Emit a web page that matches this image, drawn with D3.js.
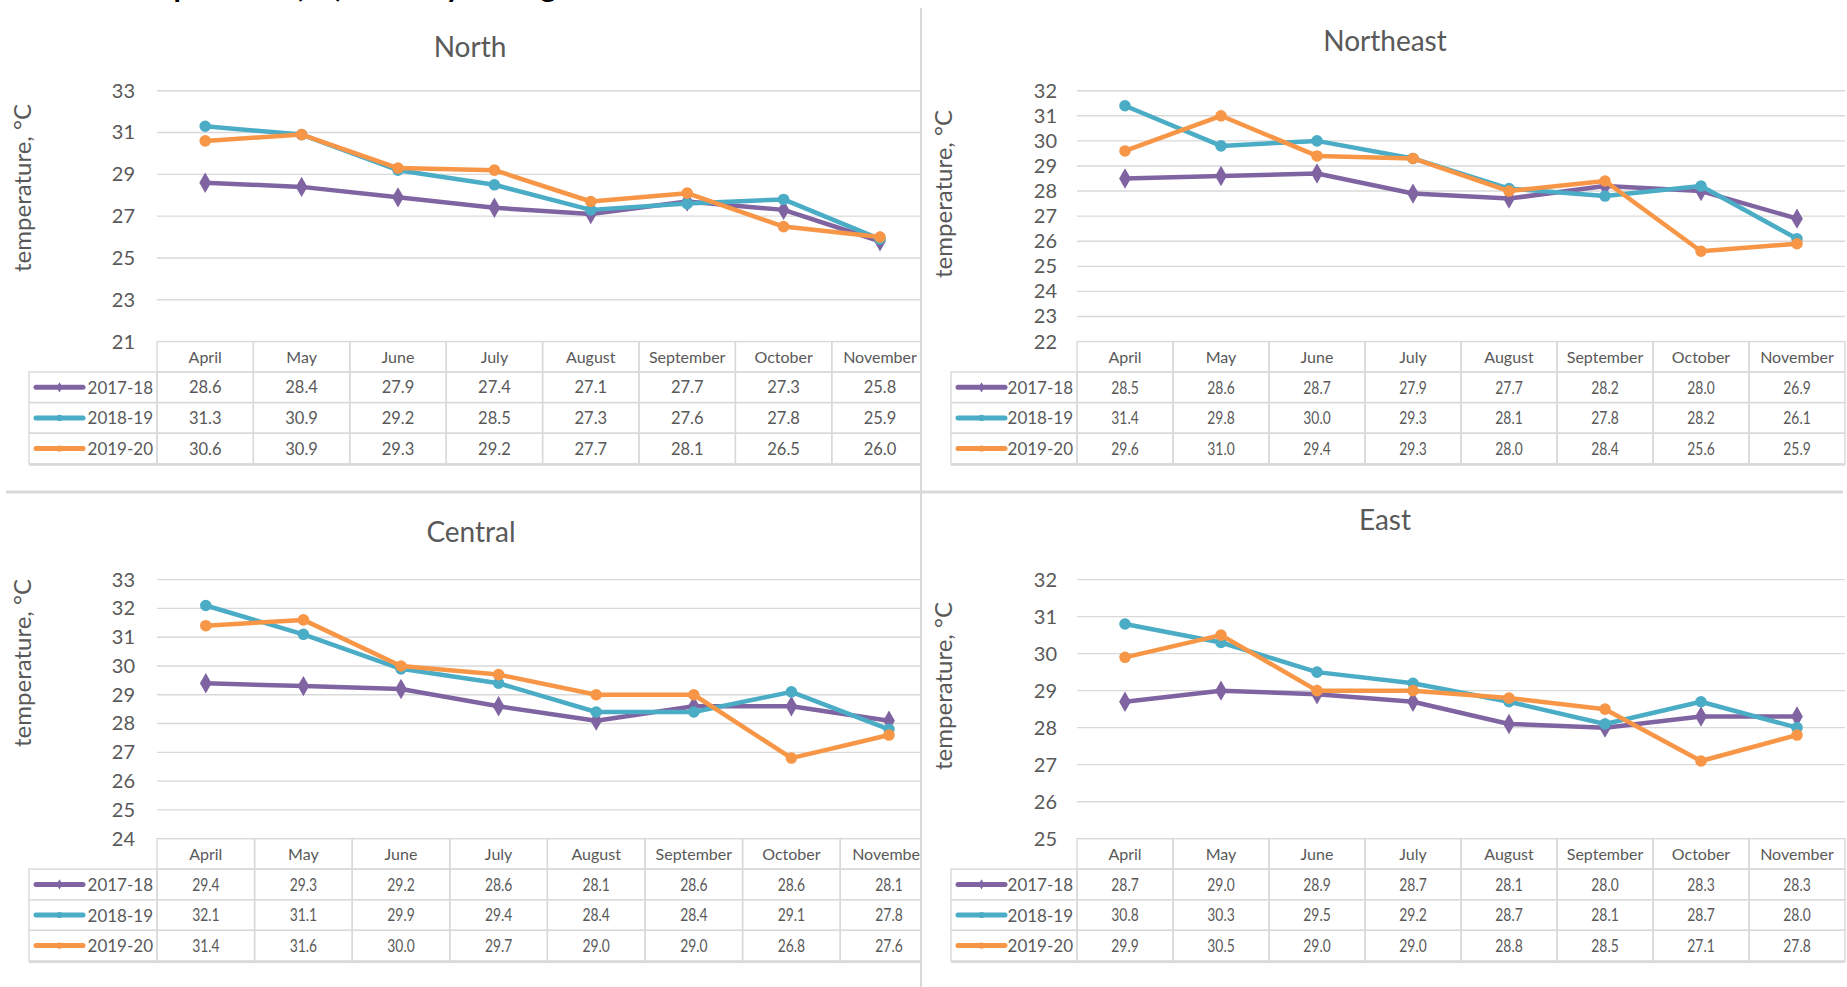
<!DOCTYPE html>
<html>
<head>
<meta charset="utf-8">
<script src="https://cdn.jsdelivr.net/npm/d3@7"></script>
<style>
  body { margin: 0; background: #fff; }
  svg { display: block; }
  text { font-family: Lato, "Open Sans", sans-serif; }
</style>
</head>
<body>
<svg id="chart" width="1847" height="987"></svg>
<script>
// ---- data ----
const months = ["April", "May", "June", "July", "August", "September", "October", "November"];
const seasons = ["2017-18", "2018-19", "2019-20"];
const seasonColors = ["#8064A2", "#4BACC6", "#F79646"];
const regionNames = ["North", "Northeast", "Central", "East"];

const northValues = [
  [28.6, 28.4, 27.9, 27.4, 27.1, 27.7, 27.3, 25.8],
  [31.3, 30.9, 29.2, 28.5, 27.3, 27.6, 27.8, 25.9],
  [30.6, 30.9, 29.3, 29.2, 27.7, 28.1, 26.5, 26.0]
];
const northeastValues = [
  [28.5, 28.6, 28.7, 27.9, 27.7, 28.2, 28.0, 26.9],
  [31.4, 29.8, 30.0, 29.3, 28.1, 27.8, 28.2, 26.1],
  [29.6, 31.0, 29.4, 29.3, 28.0, 28.4, 25.6, 25.9]
];
const centralValues = [
  [29.4, 29.3, 29.2, 28.6, 28.1, 28.6, 28.6, 28.1],
  [32.1, 31.1, 29.9, 29.4, 28.4, 28.4, 29.1, 27.8],
  [31.4, 31.6, 30.0, 29.7, 29.0, 29.0, 26.8, 27.6]
];
const eastValues = [
  [28.7, 29.0, 28.9, 28.7, 28.1, 28.0, 28.3, 28.3],
  [30.8, 30.3, 29.5, 29.2, 28.7, 28.1, 28.7, 28.0],
  [29.9, 30.5, 29.0, 29.0, 28.8, 28.5, 27.1, 27.8]
];

const northTicks = [21, 23, 25, 27, 29, 31, 33];
const northeastTicks = [22, 23, 24, 25, 26, 27, 28, 29, 30, 31, 32];
const centralTicks = [24, 25, 26, 27, 28, 29, 30, 31, 32, 33];
const eastTicks = [25, 26, 27, 28, 29, 30, 31, 32];

const axisTitle = "temperature, °C";
const pageTitle = "Temperature (°C) monthly average";

// ---- layout ----
const svg = d3.select("#chart");
const defs = svg.append("defs");
const GRID = "#D9D9D9";
const INK = "#595959";

const panels = [
  { name: regionNames[0], values: northValues, ticks: northTicks,
    clip: [0, 920], left: 157, colW: 96.4, top: 90.7, bottom: 341.6,
    titleX: 470, titleY: 57, yLabX: 21, yLabY: 188, tickRight: 135, labelLeft: 29, valueStretch: 1 },
  { name: regionNames[1], values: northeastValues, ticks: northeastTicks,
    clip: [922, 1847], left: 1077, colW: 96, top: 90.7, bottom: 341.6,
    titleX: 1385, titleY: 51, yLabX: 942, yLabY: 194, tickRight: 1057, labelLeft: 951, valueStretch: 0.84 },
  { name: regionNames[2], values: centralValues, ticks: centralTicks,
    clip: [0, 920], left: 157, colW: 97.6, top: 579.6, bottom: 838.7,
    titleX: 471, titleY: 542, yLabX: 21, yLabY: 663, tickRight: 135, labelLeft: 29, valueStretch: 0.84 },
  { name: regionNames[3], values: eastValues, ticks: eastTicks,
    clip: [922, 1847], left: 1077, colW: 96, top: 579.6, bottom: 838.7,
    titleX: 1385, titleY: 530, yLabX: 942, yLabY: 686, tickRight: 1057, labelLeft: 951, valueStretch: 0.84 }
];

// heading that runs off the top edge of the page (only its lowest strokes show)
svg.append("text")
  .attr("x", 118).attr("y", -3.5)
  .attr("font-size", 30).attr("font-weight", 700).attr("fill", "#000")
  .text(pageTitle);

const HEADER_H = 30.4, ROW_H = 30.6;

function drawPanel(p, idx) {
  const clipId = "clip" + idx;
  defs.append("clipPath").attr("id", clipId)
    .append("rect").attr("x", p.clip[0]).attr("y", 0)
    .attr("width", p.clip[1] - p.clip[0]).attr("height", 987);

  const g = svg.append("g").attr("clip-path", `url(#${clipId})`);

  const x = d3.scaleBand().domain(months)
    .range([p.left, p.left + months.length * p.colW]).paddingInner(0).paddingOuter(0);
  const y = d3.scaleLinear()
    .domain([p.ticks[0], p.ticks[p.ticks.length - 1]])
    .range([p.bottom, p.top]);
  const cx = m => x(m) + x.bandwidth() / 2;
  const right = x.range()[1];

  // title
  g.append("text")
    .attr("x", p.titleX).attr("y", p.titleY)
    .attr("text-anchor", "middle").attr("font-size", 28).attr("fill", INK)
    .text(p.name);

  // vertical axis title
  g.append("text")
    .attr("transform", `translate(${p.yLabX},${p.yLabY}) rotate(-90)`)
    .attr("text-anchor", "middle").attr("dominant-baseline", "central")
    .attr("font-size", 24).attr("fill", INK)
    .text(axisTitle);

  // horizontal gridlines
  g.append("g").selectAll("line").data(p.ticks.slice(1)).join("line")
    .attr("x1", p.left).attr("x2", right)
    .attr("y1", d => y(d)).attr("y2", d => y(d))
    .attr("stroke", GRID).attr("stroke-width", 1.4);

  // tick labels
  const axis = d3.axisLeft(y).tickValues(p.ticks).tickFormat(d3.format("d"))
    .tickSize(0).tickPadding(0);
  const ag = g.append("g").attr("transform", `translate(${p.tickRight},0)`).call(axis);
  ag.select(".domain").remove();
  ag.attr("font-family", "Lato, 'Open Sans', sans-serif").attr("font-size", 20);
  ag.selectAll("text").attr("fill", INK);

  // ---- data table ----
  const tbl = g.append("g");
  const headerTop = p.bottom;
  tbl.selectAll(".hcell").data(months).join("rect")
    .attr("x", d => x(d)).attr("y", headerTop)
    .attr("width", x.bandwidth()).attr("height", HEADER_H)
    .attr("fill", "none").attr("stroke", GRID).attr("stroke-width", 1.4);
  tbl.selectAll(".htext").data(months).join("text")
    .attr("x", d => cx(d)).attr("y", headerTop + HEADER_H / 2)
    .attr("text-anchor", "middle").attr("dominant-baseline", "central")
    .attr("font-size", 16).attr("fill", INK)
    .text(d => d);

  seasons.forEach((s, i) => {
    const rowTop = headerTop + HEADER_H + i * ROW_H;
    const mid = rowTop + ROW_H / 2;
    // legend cell
    tbl.append("rect")
      .attr("x", p.labelLeft).attr("y", rowTop)
      .attr("width", p.left - p.labelLeft).attr("height", ROW_H)
      .attr("fill", "none").attr("stroke", GRID).attr("stroke-width", 1.4);
    tbl.append("line")
      .attr("x1", p.labelLeft + 7).attr("x2", p.labelLeft + 54)
      .attr("y1", mid).attr("y2", mid)
      .attr("stroke", seasonColors[i]).attr("stroke-width", 5).attr("stroke-linecap", "round");
    tbl.append("path")
      .attr("transform", `translate(${p.labelLeft + 30.5},${mid})`)
      .attr("d", d3.symbol(i === 0 ? d3.symbolDiamond : d3.symbolCircle, 30)())
      .attr("fill", seasonColors[i]);
    tbl.append("text")
      .attr("x", p.left - 4).attr("y", mid)
      .attr("text-anchor", "end").attr("dominant-baseline", "central")
      .attr("font-size", 17).attr("fill", INK)
      .text(s);
    // value cells
    tbl.append("g").selectAll("rect").data(months).join("rect")
      .attr("x", d => x(d)).attr("y", rowTop)
      .attr("width", x.bandwidth()).attr("height", ROW_H)
      .attr("fill", "none").attr("stroke", GRID).attr("stroke-width", 1.4);
    tbl.append("g").selectAll("text").data(p.values[i]).join("text")
      .attr("transform", (d, j) => `translate(${cx(months[j])},${mid}) scale(${p.valueStretch},1)`)
      .attr("text-anchor", "middle").attr("dominant-baseline", "central")
      .attr("font-size", 16.5).attr("fill", INK)
      .text(d => d.toFixed(1));
  });
  // heavier lower edge of the table
  const tableBottom = headerTop + HEADER_H + seasons.length * ROW_H;
  tbl.append("line")
    .attr("x1", p.labelLeft).attr("x2", right)
    .attr("y1", tableBottom + 1).attr("y2", tableBottom + 1)
    .attr("stroke", GRID).attr("stroke-width", 2);

  // ---- series lines ----
  const line = d3.line().x((d, j) => cx(months[j])).y(d => y(d));
  seasons.forEach((s, i) => {
    const sg = g.append("g");
    sg.append("path").datum(p.values[i])
      .attr("d", line).attr("fill", "none")
      .attr("stroke", seasonColors[i]).attr("stroke-width", 4.5)
      .attr("stroke-linejoin", "round").attr("stroke-linecap", "round");
    sg.selectAll("path.mk").data(p.values[i]).join("path")
      .attr("class", "mk")
      .attr("transform", (d, j) => `translate(${cx(months[j])},${y(d)})`)
      .attr("d", d3.symbol(i === 0 ? d3.symbolDiamond : d3.symbolCircle, i === 0 ? 120 : 105)())
      .attr("fill", seasonColors[i]);
  });
}

panels.forEach(drawPanel);

// panel dividers
svg.append("line").attr("x1", 921).attr("x2", 921).attr("y1", 8).attr("y2", 987)
  .attr("stroke", GRID).attr("stroke-width", 2);
svg.append("line").attr("x1", 6).attr("x2", 1843).attr("y1", 492).attr("y2", 492)
  .attr("stroke", GRID).attr("stroke-width", 3);
</script>
</body>
</html>
